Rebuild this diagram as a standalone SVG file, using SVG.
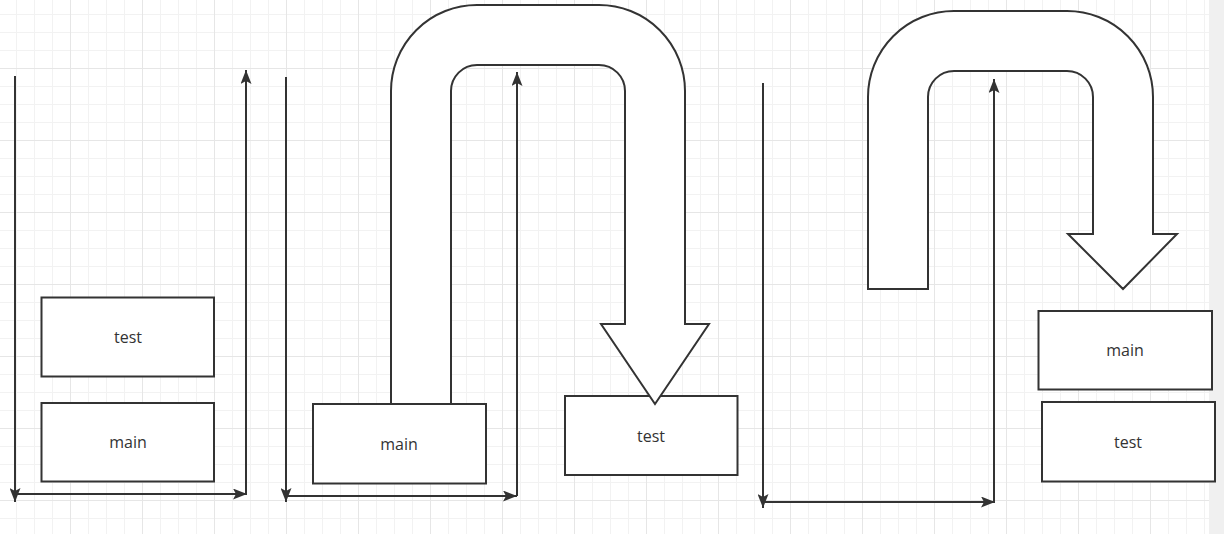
<svg xmlns="http://www.w3.org/2000/svg" width="1224" height="534" viewBox="0 0 1224 534">
  <style>
    .box { fill: #ffffff; stroke: #333333; stroke-width: 2; }
    .shape { fill: #ffffff; stroke: #333333; stroke-width: 2; stroke-linejoin: miter; }
    .lbl { font-family: "Open Sans", "Liberation Sans", sans-serif; font-size: 16px; fill: #333333; text-anchor: middle; dominant-baseline: central; }
    .conn { fill: none; stroke: #333333; stroke-width: 2; marker-end: url(#arr); }
  </style>
  <defs>
    <pattern id="grid" patternUnits="userSpaceOnUse" x="-2" y="-4" width="72" height="72">
      <rect x="0" y="0" width="72" height="72" fill="#ffffff"/>
      <rect x="18" y="0" width="1" height="72" fill="#f2f2f2"/>
      <rect x="36" y="0" width="1" height="72" fill="#f2f2f2"/>
      <rect x="54" y="0" width="1" height="72" fill="#f2f2f2"/>
      <rect x="0" y="18" width="72" height="1" fill="#f2f2f2"/>
      <rect x="0" y="36" width="72" height="1" fill="#f2f2f2"/>
      <rect x="0" y="54" width="72" height="1" fill="#f2f2f2"/>
      <rect x="0" y="0" width="1" height="72" fill="#e6e6e6"/>
      <rect x="0" y="0" width="72" height="1" fill="#e6e6e6"/>
    </pattern>
    <marker id="arr" viewBox="0 0 14 11" markerWidth="14" markerHeight="11" refX="14" refY="5.5" orient="auto" markerUnits="userSpaceOnUse">
      <path d="M0,0 L14,5.5 L0,11 L3,5.5 Z" fill="#333333"/>
    </marker>
  </defs>

  <rect x="0" y="0" width="1224" height="534" fill="#f0f0f0"/>
  <rect x="0" y="0" width="1209" height="534" fill="url(#grid)"/>

  <g id="connectors">
    <path class="conn" d="M15,76 V502"/>
    <path class="conn" d="M15,494 H247"/>
    <path class="conn" d="M246,494 V70"/>
    <path class="conn" d="M286,77 V502"/>
    <path class="conn" d="M286,496 H517"/>
    <path class="conn" d="M517,496 V72"/>
    <path class="conn" d="M763,83 V508"/>
    <path class="conn" d="M763,502 H995"/>
    <path class="conn" d="M994,502 V79"/>
  </g>

  <g id="left-test">
    <rect class="box" x="41.5" y="297.5" width="172.5" height="79"/>
    <text class="lbl" x="128" y="337">test</text>
  </g>
  <g id="left-main">
    <rect class="box" x="41.5" y="403" width="172.5" height="78.5"/>
    <text class="lbl" x="128" y="442">main</text>
  </g>

  <g id="mid-test">
    <rect class="box" x="565" y="396" width="172.5" height="79"/>
    <text class="lbl" x="651" y="436">test</text>
  </g>
  <g id="mid-uturn">
    <path class="shape" d="M391,404 L391,91 A86,86 0 0 1 477,5 L599,5 A86,86 0 0 1 685,91 L685,324 L709,324 L655,404 L601,324 L625,324 L625,91 A26,26 0 0 0 599,65 L477,65 A26,26 0 0 0 451,91 L451,404 Z"/>
  </g>
  <g id="mid-main">
    <rect class="box" x="313" y="404" width="173" height="79.5"/>
    <text class="lbl" x="399" y="444">main</text>
  </g>

  <g id="right-uturn">
    <path class="shape" d="M868,289 L868,97 A86,86 0 0 1 954,11 L1067,11 A86,86 0 0 1 1153,97 L1153,234 L1177,234 L1123,289 L1068,234 L1093,234 L1093,97 A26,26 0 0 0 1067,71 L954,71 A26,26 0 0 0 928,97 L928,289 Z"/>
  </g>
  <g id="right-main">
    <rect class="box" x="1038.5" y="311" width="173.5" height="78.5"/>
    <text class="lbl" x="1125" y="350">main</text>
  </g>
  <g id="right-test">
    <rect class="box" x="1042" y="402" width="173" height="79.5"/>
    <text class="lbl" x="1128" y="442">test</text>
  </g>
</svg>
